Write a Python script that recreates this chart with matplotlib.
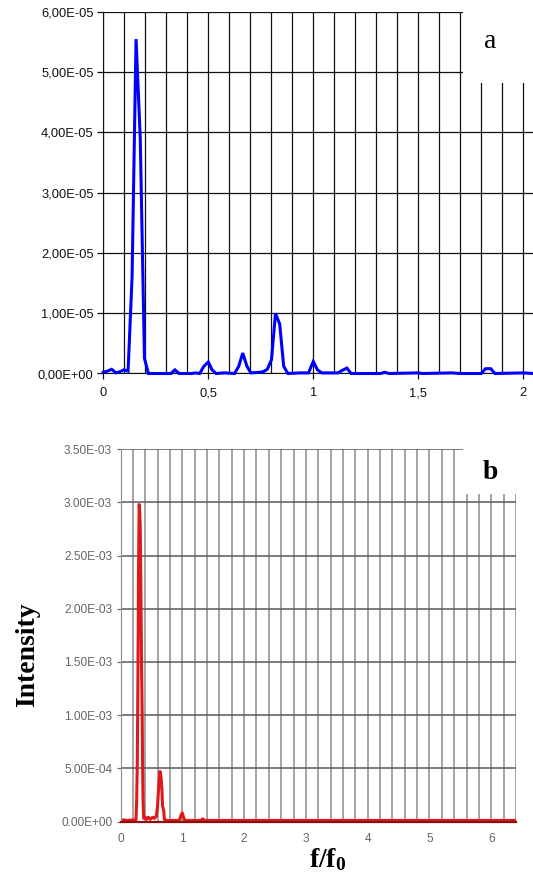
import numpy as np
import matplotlib
matplotlib.use("Agg")
import matplotlib.pyplot as plt
from matplotlib.patches import Rectangle
from matplotlib.ticker import FuncFormatter, MultipleLocator

# ---------------- data: panel a (intensity in units of 1e-5) ----------------
freq_a = [0.000, 0.020, 0.040, 0.060, 0.080, 0.098, 0.118, 0.137, 0.156, 0.176,
          0.196, 0.215, 0.322, 0.341, 0.361, 0.420, 0.440, 0.459, 0.479, 0.500,
          0.518, 0.537, 0.576, 0.625, 0.645, 0.664, 0.684, 0.703, 0.742, 0.762,
          0.781, 0.801, 0.820, 0.840, 0.859, 0.879, 0.938, 0.977, 1.000, 1.020,
          1.040, 1.117, 1.137, 1.160, 1.180, 1.320, 1.340, 1.360, 1.500, 1.520,
          1.660, 1.700, 1.800, 1.820, 1.845, 1.865, 2.000, 2.050]
intensity_a_e5 = [0.02, 0.04, 0.07, 0.01, 0.03, 0.06, 0.04, 1.60, 5.55, 3.90,
                  0.25, 0.00, 0.00, 0.06, 0.00, 0.00, 0.01, 0.00, 0.12, 0.19,
                  0.06, 0.00, 0.01, 0.00, 0.12, 0.34, 0.12, 0.01, 0.02, 0.03,
                  0.07, 0.23, 1.00, 0.82, 0.12, 0.00, 0.01, 0.01, 0.20, 0.06,
                  0.01, 0.01, 0.05, 0.09, 0.00, 0.00, 0.02, 0.00, 0.01, 0.00,
                  0.01, 0.00, 0.00, 0.08, 0.08, 0.00, 0.01, 0.00]

# ---------------- data: panel b ----------------
freq_b = [0.00, 0.05, 0.10, 0.15, 0.20, 0.25, 0.262, 0.272, 0.282, 0.292,
          0.302, 0.312, 0.320, 0.330, 0.340, 0.350, 0.357, 0.365, 0.375, 0.40,
          0.42, 0.45, 0.48, 0.52, 0.55, 0.58, 0.60, 0.62, 0.64, 0.655,
          0.67, 0.68, 0.70, 0.71, 0.75, 0.95, 0.98, 1.00, 1.02, 1.04,
          1.30, 1.33, 1.36, 1.65, 6.40]
intensity_b = [1.0e-5, 1.5e-5, 1.0e-5, 1.2e-5, 1.5e-5, 1.0e-5, 2.0e-4, 5.8e-4, 1.35e-3, 2.4e-3,
               2.98e-3, 2.9e-3, 2.75e-3, 2.2e-3, 1.5e-3, 1.05e-3, 5.7e-4, 2.0e-4, 3.0e-5, 4.0e-5,
               2.0e-5, 4.0e-5, 2.0e-5, 4.0e-5, 3.0e-5, 5.0e-5, 1.5e-4, 3.5e-4, 4.7e-4, 4.2e-4,
               3.0e-4, 1.5e-4, 1.0e-4, 2.0e-5, 1.0e-5, 1.0e-5, 6.0e-5, 8.0e-5, 4.0e-5, 1.0e-5,
               1.0e-5, 2.5e-5, 1.0e-5, 1.0e-5, 1.0e-5]

yticks_a = [0, 1e-5, 2e-5, 3e-5, 4e-5, 5e-5, 6e-5]
xticks_a = [0, 0.5, 1, 1.5, 2]
xtick_labels_a = ["0", "0,5", "1", "1,5", "2"]
yticks_b = [0, 5e-4, 1e-3, 1.5e-3, 2e-3, 2.5e-3, 3e-3, 3.5e-3]
xticks_b = [0, 1, 2, 3, 4, 5, 6]

plt.rcParams['font.family'] = ['Liberation Sans', 'DejaVu Sans']
plt.rcParams['mathtext.fontset'] = 'custom'
plt.rcParams['mathtext.bf'] = 'Liberation Serif:bold'
plt.rcParams['mathtext.rm'] = 'Liberation Serif'

W, H = 533, 880
fig = plt.figure(figsize=(W / 100, H / 100), dpi=100)

def fx(px):
    return px / W

def fy(py):
    return 1 - py / H

# ---------------- panel a ----------------
a_left, a_right, a_top, a_bot = 103.3, 533.0, 12.0, 373.5
axa = fig.add_axes([fx(a_left), fy(a_bot), fx(a_right) - fx(a_left), fy(a_top) - fy(a_bot)])
axa.plot(freq_a, np.array(intensity_a_e5) * 1e-5, color='#0000ff', lw=2.2, zorder=4,
         solid_joinstyle='miter', clip_on=False)
axa.set_xlim(0, (a_right - a_left) / 210.0)
axa.set_ylim(0, 6e-5)
axa.set_yticks(yticks_a)
axa.yaxis.set_major_formatter(FuncFormatter(
    lambda v, p: ("%.2E" % v).replace('.', ',')))
axa.set_xticks(xticks_a)
axa.set_xticklabels(xtick_labels_a)
axa.xaxis.set_minor_locator(MultipleLocator(0.1))
axa.grid(True, which='both', axis='x', color='#111111', lw=0.9)
axa.grid(True, which='major', axis='y', color='#111111', lw=0.9)
axa.tick_params(axis='y', which='major', direction='out', length=4, width=0.9,
                labelsize=9.3, colors='#111111', pad=3)
axa.tick_params(axis='x', which='major', direction='out', length=4, width=0.9,
                labelsize=9.3, colors='#111111', pad=6)
axa.tick_params(axis='x', which='minor', length=0)
for s in ['top', 'right']:
    axa.spines[s].set_visible(False)
axa.spines['left'].set_color('#111111')
axa.spines['bottom'].set_color('#111111')
axa.set_axisbelow(True)

# ---------------- panel b ----------------
b_left, b_right, b_top, b_bot = 120.5, 516.0, 449.2, 821.5
axb = fig.add_axes([fx(b_left), fy(b_bot), fx(b_right) - fx(b_left), fy(b_top) - fy(b_bot)])
axb.plot(freq_b, intensity_b, color='#e01818', lw=2.2, zorder=2)
axb.set_xlim(0, 6.4)
axb.set_ylim(0, 3.5e-3)
axb.set_yticks(yticks_b)
axb.yaxis.set_major_formatter(FuncFormatter(lambda v, p: "%.2E" % v))
axb.set_xticks(xticks_b)
axb.xaxis.set_minor_locator(MultipleLocator(0.2))
axb.grid(True, which='both', axis='x', color='#8c8c8c', lw=1.1)
axb.grid(True, which='major', axis='y', color='#5a5a5a', lw=1.1)
axb.tick_params(axis='y', which='major', direction='out', length=3, width=0.9,
                labelsize=8.6, colors='#707070', labelcolor='#666666', pad=3)
axb.tick_params(axis='x', which='major', direction='out', length=0,
                labelsize=8.6, labelcolor='#666666', pad=8)
axb.tick_params(axis='x', which='minor', length=0)
for s in ['top', 'right']:
    axb.spines[s].set_visible(False)
axb.spines['left'].set_color('#8c8c8c')
axb.spines['bottom'].set_color('#8a1010')
axb.spines['bottom'].set_linewidth(1.6)
axb.spines['bottom'].set_zorder(3)
axb.set_axisbelow(True)

# ---------------- white label boxes ----------------
fig.add_artist(Rectangle((fx(463), fy(83)), 1 - fx(463), fy(0) - fy(83),
                         transform=fig.transFigure, facecolor='white',
                         edgecolor='none', zorder=10))
fig.add_artist(Rectangle((fx(463), fy(494.5)), 1 - fx(463), fy(430) - fy(494.5),
                         transform=fig.transFigure, facecolor='white',
                         edgecolor='none', zorder=10))

fig.text(fx(490), fy(42), "a", ha='center', va='center', fontsize=20,
         family='Liberation Serif', zorder=11)
fig.text(fx(490), fy(472), "b", ha='center', va='center', fontsize=20,
         family='Liberation Serif', fontweight='bold', zorder=11)

fig.text(fx(28), fy(655), "Intensity", rotation=90, ha='center', va='center',
         fontsize=20, family='Liberation Serif', fontweight='bold')
fig.text(fx(328), fy(860), r"$\mathbf{f/f_0}$", ha='center', va='center',
         fontsize=20)

fig.savefig("out.png", dpi=100, facecolor='white')
